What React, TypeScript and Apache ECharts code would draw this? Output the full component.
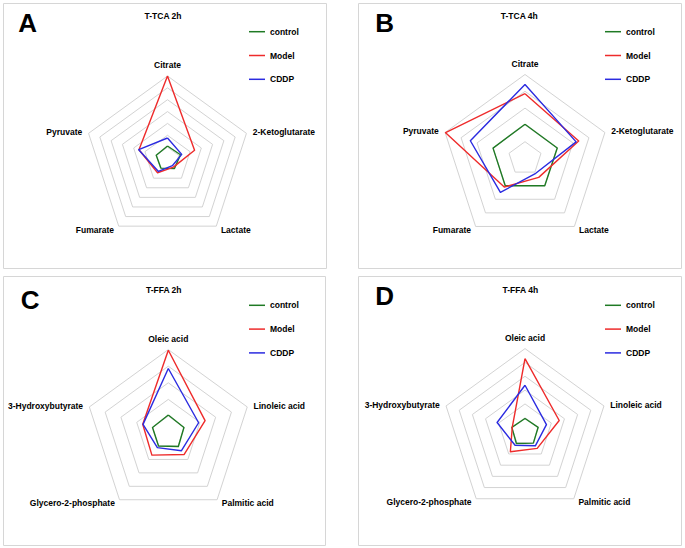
import { useEffect, useRef } from 'react';
import * as echarts from 'echarts';

// Indicators listed clockwise starting at the top
const tcaIndicators = ['Citrate', '2-Ketoglutarate', 'Lactate', 'Fumarate', 'Pyruvate'];
const ffaIndicators = ['Oleic acid', 'Linoleic acid', 'Palmitic acid', 'Glycero-2-phosphate', '3-Hydroxybutyrate'];
const groups = ['control', 'Model', 'CDDP'];
const groupColors = ['#1f7a24', '#ee2b2b', '#2b2be0'];

const panelLetters = ['A', 'B', 'C', 'D'];
const panelTitles = ['T-TCA 2h', 'T-TCA 4h', 'T-FFA 2h', 'T-FFA 4h'];
const panelMax = [7, 5, 5, 6];

// values in clockwise indicator order
const tca2hControl = [1.1, 1.15, 1.0, 0.95, 1.0];
const tca2hModel = [7.0, 2.4, 0.85, 1.43, 2.53];
const tca2hCDDP = [1.77, 1.26, 0.7, 1.3, 2.55];

const tca4hControl = [2.04, 2.02, 2.0, 2.0, 2.0];
const tca4hModel = [3.86, 3.36, 1.39, 2.1, 4.97];
const tca4hCDDP = [4.41, 3.2, 1.09, 2.49, 3.42];

const ffa2hControl = [1.06, 0.99, 1.03, 1.0, 1.0];
const ffa2hModel = [4.96, 2.33, 1.63, 1.68, 1.62];
const ffa2hCDDP = [3.86, 1.92, 1.35, 1.12, 1.6];

const ffa4hControl = [0.95, 1.0, 1.03, 1.06, 1.0];
const ffa4hModel = [5.27, 2.6, 1.5, 1.8, 0.97];
const ffa4hCDDP = [3.35, 1.63, 1.27, 1.22, 2.12];

const FONT = '"Liberation Sans", Arial, sans-serif';

export default function App() {
  const ref = useRef<HTMLDivElement>(null);

  useEffect(() => {
    if (!ref.current) return;
    const chart = echarts.init(ref.current, undefined, { renderer: 'svg' });

    const panels = [
      { names: tcaIndicators, series: [tca2hControl, tca2hModel, tca2hCDDP], box: [3, 3, 323, 265], center: [167.5, 159], radius: 83, letter: [18.3, 22.5], title: [163, 16.3], legend: [249, 31.7] },
      { names: tcaIndicators, series: [tca4hControl, tca4hModel, tca4hCDDP], box: [358, 3, 323, 265], center: [525, 158.5], radius: 84, letter: [375.3, 22.5], title: [519.3, 16.3], legend: [605, 31.7] },
      { names: ffaIndicators, series: [ffa2hControl, ffa2hModel, ffa2hCDDP], box: [3, 276, 322, 269], center: [168.3, 432.6], radius: 83, letter: [20.7, 300], title: [163.7, 289.8], legend: [249, 305.3] },
      { names: ffaIndicators, series: [ffa4hControl, ffa4hModel, ffa4hCDDP], box: [358, 276, 323, 269], center: [525, 431.6], radius: 83, letter: [375.3, 296], title: [520.3, 289.5], legend: [605, 305.3] },
    ];

    // ECharts radar goes counter-clockwise; reorder clockwise lists
    const order = [0, 4, 3, 2, 1];

    const graphics: any[] = [];
    panels.forEach((p, i) => {
      graphics.push({
        type: 'rect',
        shape: { x: p.box[0] + 0.5, y: p.box[1] + 0.5, width: p.box[2], height: p.box[3] },
        style: { fill: 'none', stroke: '#d6d6d6', lineWidth: 1 },
        silent: true,
      });
      graphics.push({
        type: 'text',
        x: p.letter[0],
        y: p.letter[1],
        style: { text: panelLetters[i], fill: '#000', fontSize: 26, fontWeight: 'bold', fontFamily: FONT, align: 'left', verticalAlign: 'middle' },
        silent: true,
      });
      graphics.push({
        type: 'text',
        x: p.title[0],
        y: p.title[1],
        style: { text: panelTitles[i], fill: '#000', fontSize: 8.5, fontWeight: 'bold', fontFamily: FONT, align: 'center', verticalAlign: 'middle' },
        silent: true,
      });
    });

    const option: any = {
      animation: false,
      backgroundColor: '#ffffff',
      color: groupColors,
      graphic: graphics,
      legend: panels.map((p) => ({
        data: groups,
        orient: 'vertical',
        left: p.legend[0],
        top: p.legend[1] - 6,
        padding: 0,
        itemGap: 11.8,
        itemWidth: 16,
        itemHeight: 1.5,
        icon: 'rect',
        selectedMode: false,
        textStyle: { fontSize: 8.5, fontWeight: 'bold', color: '#000', fontFamily: FONT, lineHeight: 12 },
      })),
      radar: panels.map((p, i) => ({
        center: p.center,
        radius: p.radius,
        startAngle: 90,
        shape: 'polygon',
        splitNumber: panelMax[i],
        nameGap: 4.5,
        indicator: order.map((j) => ({ name: p.names[j], min: 0, max: panelMax[i] })),
        axisName: { color: '#000', fontWeight: 'bold', fontSize: 8.5, fontFamily: FONT, padding: [0, 2, 2, 2] },
        splitLine: { lineStyle: { color: '#d3d3d3', width: 1 } },
        splitArea: { show: false },
        axisLine: { show: false },
        axisTick: { show: false },
        axisLabel: { show: false },
      })),
      series: panels.map((p, i) => ({
        type: 'radar',
        radarIndex: i,
        symbol: 'none',
        silent: true,
        data: p.series.map((vals, k) => ({
          name: groups[k],
          value: order.map((j) => vals[j]),
          lineStyle: { color: groupColors[k], width: 1.4 },
          itemStyle: { color: groupColors[k] },
        })),
      })),
    };

    chart.setOption(option);
    return () => chart.dispose();
  }, []);

  return (
    <div
      ref={ref}
      style={{ position: 'fixed', left: 0, top: 0, width: 685, height: 548, background: '#fff' }}
    />
  );
}
